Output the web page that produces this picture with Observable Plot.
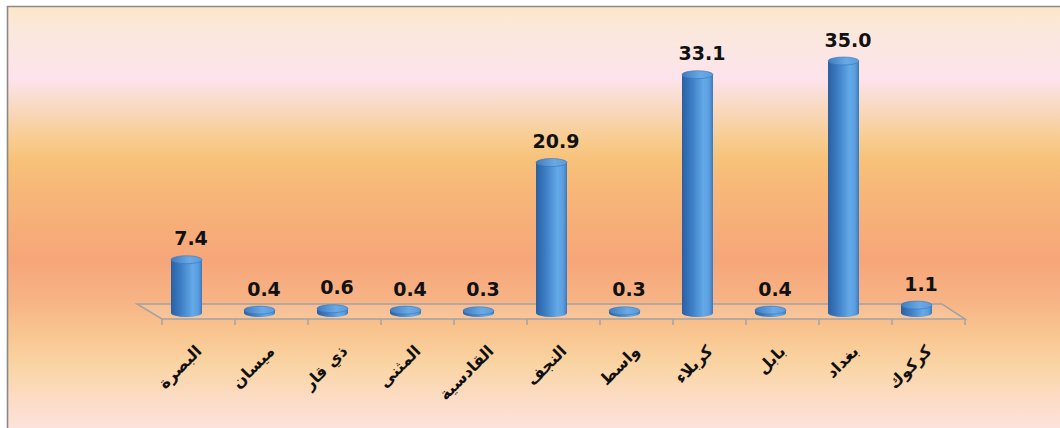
<!DOCTYPE html>
<html><head><meta charset="utf-8">
<script src="https://cdn.jsdelivr.net/npm/d3@7"></script>
<script src="https://cdn.jsdelivr.net/npm/@observablehq/plot@0.6"></script>
<style>
body{margin:0;background:#fff}
#chart{width:1060px;height:428px;position:relative}
</style>
</head><body><div id="chart"></div>
<script>
const regions = ["البصرة","ميسان","ذي قار","المثنى","القادسية","النجف","واسط","كربلاء","بابل","بغداد","كركوك"];
const values = [7.4, 0.4, 0.6, 0.4, 0.3, 20.9, 0.3, 33.1, 0.4, 35.0, 1.1];

const data = regions.map((r, i) => ({region: r, value: values[i]}));
const ymax = d3.max(values);
const inset = 21;
const ry = 4;

const plot = Plot.plot({
  width: 1060, height: 428, margin: 0,
  style: {background: "transparent", overflow: "visible"},
  x: {type: "band", domain: regions, range: [150, 953], padding: 0, axis: null},
  y: {domain: [0, ymax], range: [313, 61], axis: null},
  marks: [
    Plot.barY(data, {x: "region", y1: d => 0, y2: d => 0, insetLeft: inset, insetRight: inset,
      insetTop: -ry, insetBottom: -ry, rx: 15.5, ry: ry, fill: "url(#cyl)"}),
    Plot.barY(data, {x: "region", y1: d => 0, y2: "value", insetLeft: inset, insetRight: inset, fill: "url(#cyl)"}),
    Plot.barY(data, {x: "region", y1: "value", y2: "value", insetLeft: inset, insetRight: inset,
      insetTop: -ry, insetBottom: -ry, rx: 15.5, ry: ry, fill: "url(#cap)", stroke: "#3a74b4", strokeWidth: 0.6}),
    Plot.text(data, {x: "region", y: "value", text: d => d.value.toFixed(1), dy: -21, dx: 4,
      fontSize: 19, fontWeight: "bold", fontFamily: "DejaVu Sans", fill: "#111", letterSpacing: 1}),
    Plot.text(data, {x: "region", y: d => 0, text: "region", textAnchor: "end",
      dx: 12, dy: 35, fontSize: 16, fontWeight: "bold", fontFamily: "DejaVu Sans", fill: "#101010"})
  ]
});

document.getElementById("chart").appendChild(plot);

const svg = d3.select(plot);
const defs = svg.insert("defs", ":first-child");

function grad(id, horiz, stops) {
  const g = defs.append("linearGradient").attr("id", id)
    .attr("x1", 0).attr("y1", 0).attr("x2", horiz ? 1 : 0).attr("y2", horiz ? 0 : 1);
  stops.forEach(([o, c]) => g.append("stop").attr("offset", o).attr("stop-color", c));
}
const bgStops = [[8,"#fde6c6"],[30,"#fbe8dc"],[80,"#fde3ec"],[100,"#f9dccc"],[140,"#f8cc90"],[160,"#f7c27a"],
  [187,"#f7b878"],[260,"#f6a679"],[300,"#f7b385"],[333,"#f8c58f"],[367,"#fad5a5"],[400,"#fcdcc6"],[428,"#fde2dc"]];
grad("bg", false, bgStops.map(([y, c]) => [(y - 7) / 421, c]));
grad("cyl", true, [[0,"#2a60a2"],[0.3,"#3c7cc3"],[0.7,"#64a9e8"],[0.88,"#5a9ddf"],[1,"#3a78bc"]]);
grad("cap", true, [[0,"#3f7cc0"],[0.6,"#6aa9e6"],[1,"#5b9bdb"]]);

svg.insert("rect", "g").attr("x", 7).attr("y", 6).attr("width", 1053).attr("height", 422)
  .attr("fill", "url(#bg)");

const xs = plot.scale("x"), ys = plot.scale("y");
const x0 = xs.apply(regions[0]);
const x1 = xs.apply(regions[regions.length - 1]) + xs.bandwidth;
const yb = ys.apply(0);
const floor = svg.insert("g", "g");
floor.append("polygon")
  .attr("points", [[x0 - 13, yb - 9], [x1 - 11, yb - 9], [x1 + 12, yb + 6], [x0 + 12, yb + 6]].map(p => p.join(",")).join(" "))
  .attr("fill", "rgba(255,255,255,0.12)").attr("stroke", "#a3a3a3").attr("stroke-width", 1.5);
const bounds = regions.map(r => xs.apply(r)).concat([x1]);
floor.selectAll("line.tick").data(bounds).join("line")
  .attr("x1", d => d + 12).attr("x2", d => d + 12)
  .attr("y1", yb + 6).attr("y2", yb + 12)
  .attr("stroke", "#a3a3a3").attr("stroke-width", 1.5);

// rotate category labels about their anchor points
svg.selectAll("text").filter(function() {
  return regions.includes(this.textContent);
}).each(function() {
  const t = d3.select(this);
  const prev = t.attr("transform") || "";
  if (/translate/.test(prev)) {
    t.attr("transform", prev.replace(/rotate\([^)]*\)/, "") + " rotate(-45)");
  } else {
    const x = +t.attr("x") || 0, y = +t.attr("y") || 0;
    t.attr("transform", `rotate(-45 ${x} ${y})`);
  }
});

svg.append("path").attr("d", "M7.5,428V6.5H1060").attr("fill", "none").attr("stroke", "#8a8a8a").attr("stroke-width", 1.6);
</script>
</body></html>
